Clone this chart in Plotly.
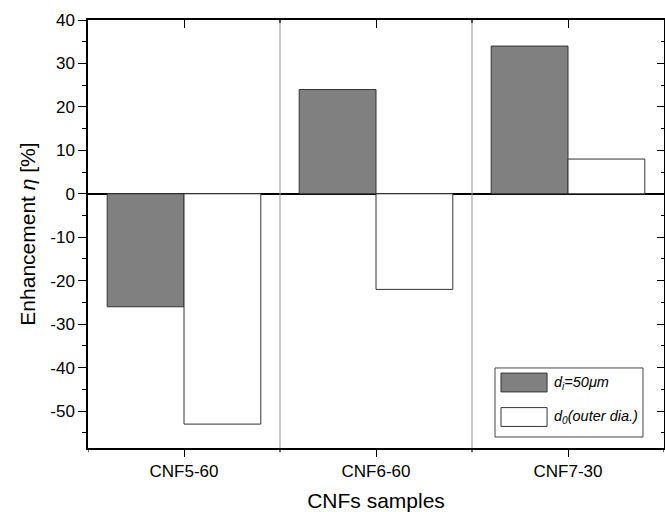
import plotly.graph_objects as go

categories = ["CNF5-60", "CNF6-60", "CNF7-30"]
series_inner = [-26, 24, 34]      # d_i = 50 um
series_outer = [-53, -22, 8]      # d_0 (outer dia.)
legend_labels = ["<i>d<sub>i</sub>=50μm</i>", "<i>d<sub>0</sub>(outer dia.)</i>"]
y_ticks = [-50, -40, -30, -20, -10, 0, 10, 20, 30, 40]
y_ticktext = [str(v) for v in y_ticks]

FONT = "Liberation Sans, Arial, sans-serif"
edge = "#333333"

fig = go.Figure()
fig.add_trace(go.Bar(x=categories, y=series_inner, name=legend_labels[0],
                     marker=dict(color="#808080", line=dict(color=edge, width=1)),
                     showlegend=False))
fig.add_trace(go.Bar(x=categories, y=series_outer, name=legend_labels[1],
                     marker=dict(color="white", line=dict(color=edge, width=1)),
                     showlegend=False))

yr = [-58.5, 40]
fig.update_layout(
    width=665, height=512,
    margin=dict(l=88, r=1, t=20, b=64),
    plot_bgcolor="white", paper_bgcolor="white",
    barmode="group", bargap=0.2, bargroupgap=0,
    font=dict(family=FONT, size=17, color="black"),
    xaxis=dict(type="category", range=[-0.5, 2.5], showline=True, linecolor="black",
               linewidth=1.5, ticks="outside", ticklen=7, tickwidth=1.2, tickcolor="black",
               showgrid=False, zeroline=False,
               title=dict(text="CNFs samples", font=dict(size=21), standoff=14),
               tickfont=dict(size=17)),
    xaxis2=dict(overlaying="x", side="top", range=[-0.5, 2.5], tickvals=[0, 1, 2],
                showticklabels=False, ticks="inside", ticklen=8, tickwidth=1.2,
                tickcolor="black", showline=True, linecolor="black", linewidth=1.5,
                showgrid=False, zeroline=False),
    yaxis=dict(range=yr, tickvals=y_ticks, ticktext=y_ticktext, showline=True,
               linecolor="black", linewidth=1.5,
               ticks="outside", ticklen=8, tickwidth=1.2, tickcolor="black",
               minor=dict(dtick=5, tick0=0, ticks="outside", ticklen=4, tickwidth=1.2,
                          tickcolor="black"),
               showgrid=False, zeroline=True, zerolinecolor="black", zerolinewidth=1.5,
               title=dict(text="Enhancement <i>η</i> [%]", font=dict(size=21), standoff=9),
               tickfont=dict(size=17)),
    yaxis2=dict(overlaying="y", side="right", range=yr, tickvals=y_ticks,
                showticklabels=False, ticks="inside", ticklen=7, tickwidth=1.2,
                tickcolor="black", showline=True, linecolor="black", linewidth=1.5,
                minor=dict(dtick=5, tick0=0, ticks="inside", ticklen=3, tickwidth=1.2,
                           tickcolor="black"),
                showgrid=False, zeroline=False),
)
# dummy invisible trace to activate secondary axes
fig.add_trace(go.Scatter(x=[0], y=[0], xaxis="x2", yaxis="y2", mode="markers",
                         marker=dict(opacity=0), showlegend=False, hoverinfo="skip"))

# separator lines between categories
for i in range(len(categories) - 1):
    xs = i + 0.5
    fig.add_shape(type="line", xref="x", yref="y domain", x0=xs, x1=xs, y0=0, y1=1,
                  line=dict(color="#999999", width=1))
    fig.add_shape(type="line", xref="x", yref="y domain", x0=xs, x1=xs, y0=-0.01, y1=0.0,
                  line=dict(color="black", width=1.2))
    fig.add_shape(type="line", xref="x", yref="y domain", x0=xs, x1=xs, y0=0.993, y1=1.0,
                  line=dict(color="black", width=1.2))
for xs in [-0.5, 2.5]:
    fig.add_shape(type="line", xref="x", yref="y domain", x0=xs, x1=xs, y0=-0.01, y1=0.0,
                  line=dict(color="black", width=1.2))

# custom legend
lx0, lx1, ly0, ly1 = 0.7066, 0.9635, 0.0257, 0.187
fig.add_shape(type="rect", xref="paper", yref="paper", x0=lx0, x1=lx1, y0=ly0, y1=ly1,
              line=dict(color="#444444", width=1), fillcolor="white")
colors = ["#808080", "white"]
rows = [0.153, 0.0724]
for c, yy, lab in zip(colors, rows, legend_labels):
    fig.add_shape(type="rect", xref="paper", yref="paper", x0=0.717, x1=0.797,
                  y0=yy - 0.022, y1=yy + 0.022, fillcolor=c, line=dict(color=edge, width=1))
    fig.add_annotation(xref="paper", yref="paper", x=0.805, y=yy, text=lab,
                       showarrow=False, xanchor="left", yanchor="middle",
                       font=dict(size=14.5, family=FONT))

fig.write_html("out.html")
